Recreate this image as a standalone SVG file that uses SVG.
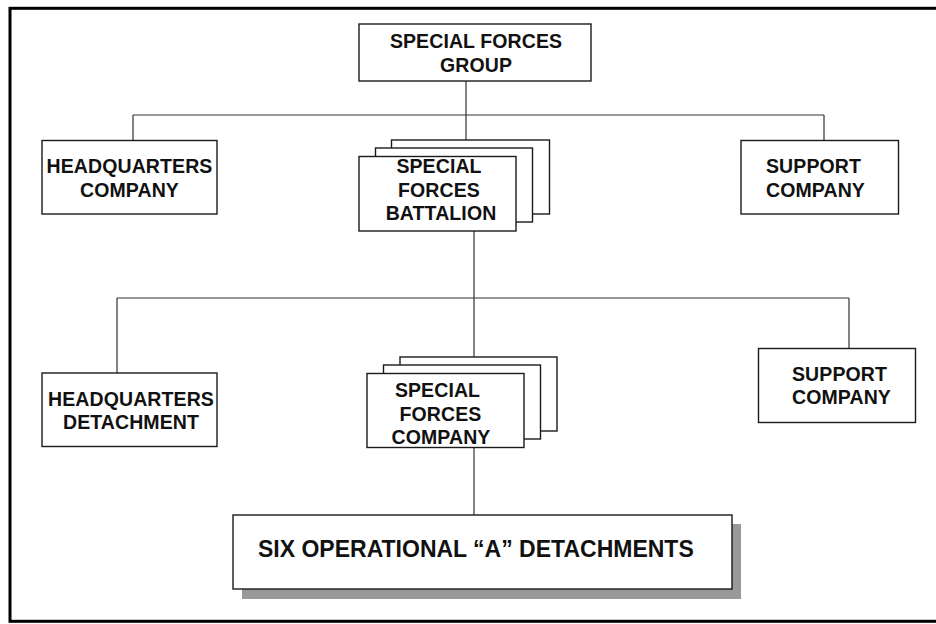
<svg xmlns="http://www.w3.org/2000/svg" width="936" height="624" viewBox="0 0 936 624">
<style>
.box{fill:#fff;stroke:#1a1a1a;stroke-width:1.4}
.t{font-family:"Liberation Sans",Arial,sans-serif;font-weight:bold;font-size:19.5px;letter-spacing:0.1px;fill:#111}
.c{text-anchor:middle}
.big{font-size:23px;letter-spacing:0}
.ln{fill:none;stroke:#333;stroke-width:1.2}
</style>
<rect width="936" height="624" fill="#fff"/>
<rect id="frame" x="10" y="8.3" width="940" height="613" fill="none" stroke="#000" stroke-width="3"/>
<g id="connectors" class="ln">
<path d="M466 81V115M133 115H824M133 115V140M824 115V140M466 115V140"/>
<path d="M474 231V298M117 298H849M117 298V373M849 298V348M474 298V357"/>
<path d="M474 447V515"/>
</g>
<g id="sf-group">
<rect class="box" x="359" y="24" width="232" height="57"/>
<text class="t c" x="476" y="48">SPECIAL FORCES</text>
<text class="t c" x="476" y="72">GROUP</text>
</g>
<g id="hq-company">
<rect class="box" x="42" y="140.5" width="175" height="73.5"/>
<text class="t c" x="129.5" y="173">HEADQUARTERS</text>
<text class="t c" x="129.5" y="196.5">COMPANY</text>
</g>
<g id="sf-battalion">
<rect class="box" x="391.5" y="140" width="158" height="74"/>
<rect class="box" x="375.5" y="148" width="157" height="74"/>
<rect class="box" x="359" y="156.5" width="157" height="74.5"/>
<text class="t c" x="439" y="173">SPECIAL</text>
<text class="t c" x="439" y="197">FORCES</text>
<text class="t c" x="441" y="220">BATTALION</text>
</g>
<g id="support-company-1">
<rect class="box" x="741" y="140.5" width="157.5" height="73.5"/>
<text class="t" x="766" y="173">SUPPORT</text>
<text class="t" x="766" y="196.5">COMPANY</text>
</g>
<g id="hq-detachment">
<rect class="box" x="42" y="373" width="175" height="73.5"/>
<text class="t c" x="131" y="406">HEADQUARTERS</text>
<text class="t c" x="131" y="429">DETACHMENT</text>
</g>
<g id="sf-company">
<rect class="box" x="400" y="357" width="157" height="74"/>
<rect class="box" x="383.5" y="365" width="157" height="74"/>
<rect class="box" x="367" y="373.5" width="157" height="74"/>
<text class="t c" x="437.5" y="397">SPECIAL</text>
<text class="t c" x="440.5" y="420.5">FORCES</text>
<text class="t c" x="441" y="444">COMPANY</text>
</g>
<g id="support-company-2">
<rect class="box" x="758.5" y="348.5" width="157" height="74"/>
<text class="t" x="792" y="380.5">SUPPORT</text>
<text class="t" x="792" y="404">COMPANY</text>
</g>
<g id="a-detachments">
<rect x="242" y="524" width="499" height="75" fill="#999"/>
<rect class="box" x="233" y="515" width="499" height="74"/>
<text class="t big" x="258" y="557">SIX OPERATIONAL “A” DETACHMENTS</text>
</g>
</svg>
